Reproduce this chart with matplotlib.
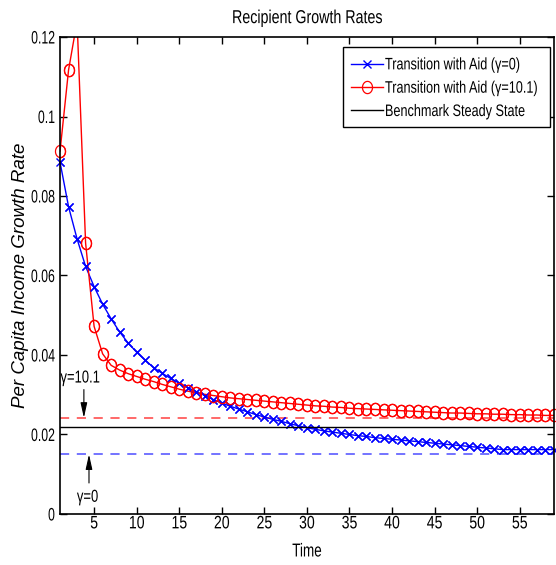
import matplotlib
matplotlib.use("Agg")
import matplotlib.pyplot as plt
from matplotlib.path import Path
from matplotlib.patches import Rectangle
from matplotlib.transforms import Affine2D, Bbox
from matplotlib.patheffects import AbstractPathEffect
import numpy as np

plt.rcParams['font.family'] = ['Liberation Sans', 'DejaVu Sans']

time = list(range(1, 60))
growth_gamma0 = [
    0.0885, 0.0773, 0.0692, 0.0623, 0.0572, 0.0528, 0.0491, 0.0458, 0.0430, 0.0407,
    0.0387, 0.0368, 0.0354, 0.0341, 0.0329, 0.0318, 0.0308, 0.0298, 0.0288, 0.0279,
    0.0271, 0.0264, 0.0257, 0.0250, 0.0244, 0.0238, 0.0233, 0.0227, 0.0222, 0.0217,
    0.0213, 0.0209, 0.0206, 0.0203, 0.0200, 0.0197, 0.0195, 0.0192, 0.0190, 0.0188,
    0.0186, 0.0184, 0.0182, 0.0180, 0.0178, 0.0176, 0.0174, 0.0172, 0.0170, 0.0168,
    0.0166, 0.0164, 0.0162, 0.0162, 0.0162, 0.0162, 0.0162, 0.0162, 0.0162]
growth_gamma101 = [
    0.0913, 0.1117, 0.1240, 0.0682, 0.0472, 0.0403, 0.0374, 0.0362, 0.0353, 0.0346,
    0.0339, 0.0333, 0.0326, 0.0320, 0.0314, 0.0309, 0.0305, 0.0301, 0.0298, 0.0295,
    0.0292, 0.0290, 0.0288, 0.0286, 0.0284, 0.0282, 0.0280, 0.0278, 0.0276, 0.0274,
    0.0272, 0.0271, 0.0269, 0.0268, 0.0266, 0.0265, 0.0264, 0.0263, 0.0262, 0.0261,
    0.0260, 0.0259, 0.0258, 0.0257, 0.0256, 0.0255, 0.0254, 0.0254, 0.0253, 0.0252,
    0.0252, 0.0251, 0.0251, 0.0250, 0.0250, 0.0249, 0.0249, 0.0248, 0.0248]
benchmark_ss = 0.0220
steady_gamma0 = 0.0150
steady_gamma101 = 0.0242

x_ticks = [5, 10, 15, 20, 25, 30, 35, 40, 45, 50, 55]
y_ticks = [0, 0.02, 0.04, 0.06, 0.08, 0.1, 0.12]
y_ticklabels = ['0', '0.02', '0.04', '0.06', '0.08', '0.1', '0.12']
x_range = (1, 59)
y_range = (0, 0.12)


class Squeeze(AbstractPathEffect):
    """Draw text horizontally condensed (like a narrow Helvetica)."""
    def __init__(self, sx=0.75, anchor='center'):
        super().__init__()
        self.sx = sx
        self.anchor = anchor

    def draw_path(self, renderer, gc, tpath, affine, rgbFace=None):
        ext = tpath.get_extents()
        if self.anchor == 'right':
            cx = ext.x1
        elif self.anchor == 'left':
            cx = 0.0
        else:
            cx = 0.5 * (ext.x0 + ext.x1)
        a = Affine2D().translate(-cx, 0).scale(self.sx, 1).translate(cx, 0) + affine
        renderer.draw_path(gc, tpath, a, rgbFace)


def squeeze_text(txt, sx, anchor):
    """Apply the condensed drawing and report the matching (narrower) extent."""
    txt.set_path_effects([Squeeze(sx, anchor)])
    orig = txt.get_window_extent

    def extent(renderer=None, dpi=None, _orig=orig):
        bb = _orig(renderer, dpi) if dpi is not None else _orig(renderer)
        w = bb.width * sx
        if anchor == 'right':
            x0 = bb.x1 - w
        elif anchor == 'left':
            x0 = bb.x0
        else:
            x0 = 0.5 * (bb.x0 + bb.x1) - 0.5 * w
        return Bbox.from_extents(x0, bb.y0, x0 + w, bb.y1)
    txt.get_window_extent = extent


theta = np.linspace(0, 2 * np.pi, 60)
ellipse = Path(np.column_stack([0.82 * np.cos(theta), np.sin(theta)]), closed=True)

fig = plt.figure(figsize=(5.56, 5.65), dpi=100)
ax = fig.add_axes([0.108, 0.0903, 0.888, 0.8442])

ax.axhline(steady_gamma101, color='#ff4040', linestyle=(0, (6, 5)), linewidth=1.1)
ax.axhline(steady_gamma0, color='#4d4dff', linestyle=(0, (6, 5)), linewidth=1.1)

g0 = np.array(growth_gamma0)
g1 = np.array(growth_gamma101)
t = np.array(time)
in0 = np.where(g0 <= y_range[1])[0]
in1 = np.where(g1 <= y_range[1])[0]

blue_style = dict(color='blue', marker='x', markersize=5.5, markeredgewidth=1.0)
red_style = dict(color='red', marker=ellipse, markersize=8.8,
                 markerfacecolor='none', markeredgewidth=0.9)

l0, = ax.plot(t, g0, linewidth=1.0, markevery=list(in0), **blue_style)
l1, = ax.plot(t, g1, linewidth=1.0, markevery=list(in1), **red_style)
ax.plot(t[in0], g0[in0], linestyle='none', clip_on=False, **blue_style)
ax.plot(t[in1], g1[in1], linestyle='none', clip_on=False, **red_style)
lb = ax.axhline(benchmark_ss, color='black', linewidth=1.0)

ax.annotate('', xy=(3.8, steady_gamma101), xytext=(3.8, 0.0313),
            arrowprops=dict(arrowstyle='-|>,head_length=0.9,head_width=0.2',
                            color='black', lw=0.8, shrinkA=0, shrinkB=0))
t1 = ax.text(3.4, 0.0342, '\u03b3=10.1', ha='center', va='center', fontsize=12.5)
ax.annotate('', xy=(4.4, steady_gamma0), xytext=(4.4, 0.0078),
            arrowprops=dict(arrowstyle='-|>,head_length=0.9,head_width=0.2',
                            color='black', lw=0.8, shrinkA=0, shrinkB=0))
t2 = ax.text(4.25, 0.0042, '\u03b3=0', ha='center', va='center', fontsize=12.5)
for tx in (t1, t2):
    squeeze_text(tx, 0.75, 'center')

ax.set_xlim(*x_range)
ax.set_ylim(*y_range)
ax.set_xticks(x_ticks)
ax.set_yticks(y_ticks)
ax.set_yticklabels(y_ticklabels)
ax.tick_params(direction='in', top=True, right=True, labelsize=13, length=5, width=1)
ax.tick_params(axis='x', pad=1)
ax.tick_params(axis='y', pad=3.5)
for s in ax.spines.values():
    s.set_linewidth(1.2)
for lab in ax.get_xticklabels():
    squeeze_text(lab, 0.78, 'center')
for lab in ax.get_yticklabels():
    squeeze_text(lab, 0.68, 'right')

title = ax.set_title('Recipient Growth Rates', fontsize=13.5, pad=10)
squeeze_text(title, 0.76, 'center')
xl = ax.set_xlabel('Time', fontsize=13.5, labelpad=8)
squeeze_text(xl, 0.72, 'center')
ax.set_ylabel('Per Capita Income Growth Rate', fontsize=13.5, style='italic')
ax.yaxis.set_label_coords(-0.063, 0.5)

# legend (frame drawn as a patch so it fits the condensed text)
leg = ax.legend([l0, l1, lb],
                ['Transition with Aid (\u03b3=0)', 'Transition with Aid (\u03b3=10.1)',
                 'Benchmark Steady State'],
                loc='upper left', bbox_to_anchor=(0.569, 0.979), borderaxespad=0,
                fontsize=12, frameon=False, handlelength=1.9, handletextpad=0.12,
                borderpad=0.62, labelspacing=0.5)
for tx in leg.get_texts():
    squeeze_text(tx, 0.76, 'left')
ax.add_patch(Rectangle((0.573, 0.811), 0.996 - 0.573 - 0.004, 0.979 - 0.811,
                       transform=ax.transAxes, fill=True, facecolor='white',
                       edgecolor='black', linewidth=1.0, zorder=4.9))

fig.savefig('out.png', dpi=100)
